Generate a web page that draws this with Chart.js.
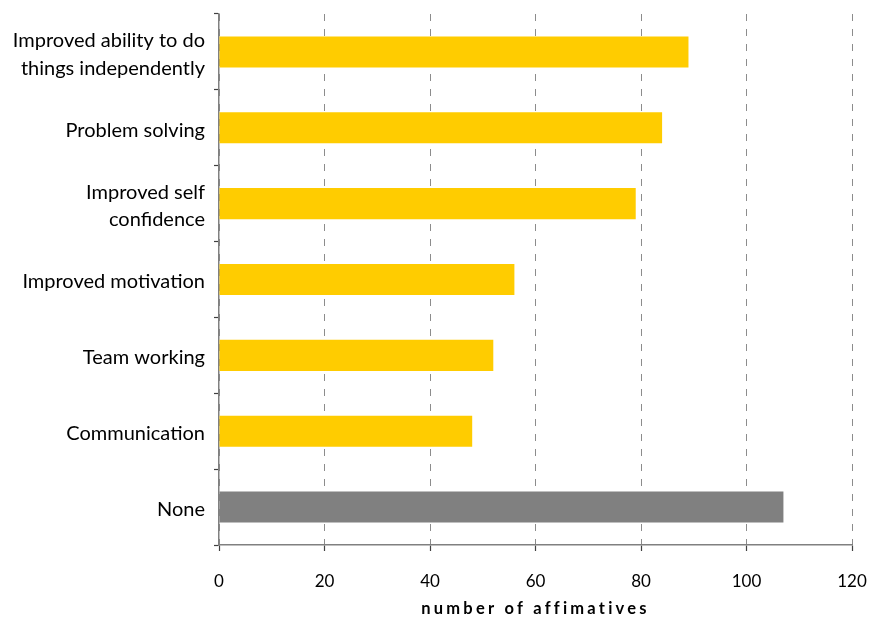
<!DOCTYPE html>
<html lang="en">
  <head>
    <meta charset="UTF-8" />
    <title>Affirmatives</title>
    <style>
      html, body { margin: 0; padding: 0; background: #fff; }
      #wrap { width: 870px; height: 618px; }
    </style>
  </head>
  <body>
    <div id="wrap"><canvas id="myChart" width="870" height="618"></canvas></div>
    <script src="https://cdn.jsdelivr.net/npm/chart.js@4.4.1/dist/chart.umd.min.js"></script>
    <script>
      const categories = [
        ["Improved ability to do", "things independently"],
        "Problem solving",
        ["Improved self", "confidence"],
        "Improved motivation",
        "Team working",
        "Communication",
        "None"
      ];
      const affirmatives = [89, 84, 79, 56, 52, 48, 107];
      const barColors = ["#ffcc00", "#ffcc00", "#ffcc00", "#ffcc00", "#ffcc00", "#ffcc00", "#808080"];
      const xTicks = [0, 20, 40, 60, 80, 100, 120];

      const fontFamily = "Lato, 'Open Sans', sans-serif";

      // spaced-out lettering for the x axis title
      const spacedTitle = {
        id: "spacedTitle",
        beforeDraw(chart) {
          const s = chart.scales.x;
          if (!s || s._spaced) return;
          const orig = s.drawTitle;
          s.drawTitle = function () {
            this.ctx.save();
            this.ctx.letterSpacing = "3.2px";
            orig.call(this);
            this.ctx.restore();
          };
          s._spaced = true;
        }
      };

      new Chart("myChart", {
        type: "bar",
        data: {
          labels: categories,
          datasets: [
            {
              data: affirmatives,
              backgroundColor: barColors,
              categoryPercentage: 1,
              barPercentage: 0.41
            }
          ]
        },
        plugins: [spacedTitle],
        options: {
          indexAxis: "y",
          responsive: false,
          animation: false,
          layout: { padding: { top: 14, right: 18, left: 0, bottom: 0 } },
          plugins: {
            legend: { display: false },
            tooltip: { enabled: false }
          },
          scales: {
            x: {
              min: 0,
              max: 120,
              afterBuildTicks: (scale) => {
                scale.ticks = xTicks.map((v) => ({ value: v }));
              },
              afterFit: (scale) => {
                scale.height = 73;
                scale.paddingLeft = 0;
                scale.paddingRight = 0;
              },
              grid: {
                color: "#8c8c8c",
                lineWidth: 1,
                tickLength: 6,
                tickColor: "#404040",
                tickWidth: 1.2,
                tickBorderDash: []
              },
              border: { color: "#808080", width: 1.5, dash: [7, 8] },
              ticks: {
                color: "#000",
                padding: 20,
                font: { family: fontFamily, size: 17 }
              },
              title: {
                display: true,
                text: "number of affimatives",
                color: "#000",
                padding: { top: 0, bottom: -1 },
                font: { family: fontFamily, size: 16.5, weight: "bold" }
              }
            },
            y: {
              afterFit: (scale) => {
                scale.width = 219;
                scale.paddingTop = 0;
                scale.paddingBottom = 0;
              },
              grid: {
                drawOnChartArea: false,
                tickLength: 5,
                tickColor: "#404040",
                tickWidth: 1.2
              },
              border: { color: "#808080", width: 1.5 },
              ticks: {
                color: "#000",
                padding: 9,
                labelOffset: 2.5,
                font: { family: fontFamily, size: 20, lineHeight: 1.37 }
              }
            }
          }
        }
      });
    </script>
  </body>
</html>
